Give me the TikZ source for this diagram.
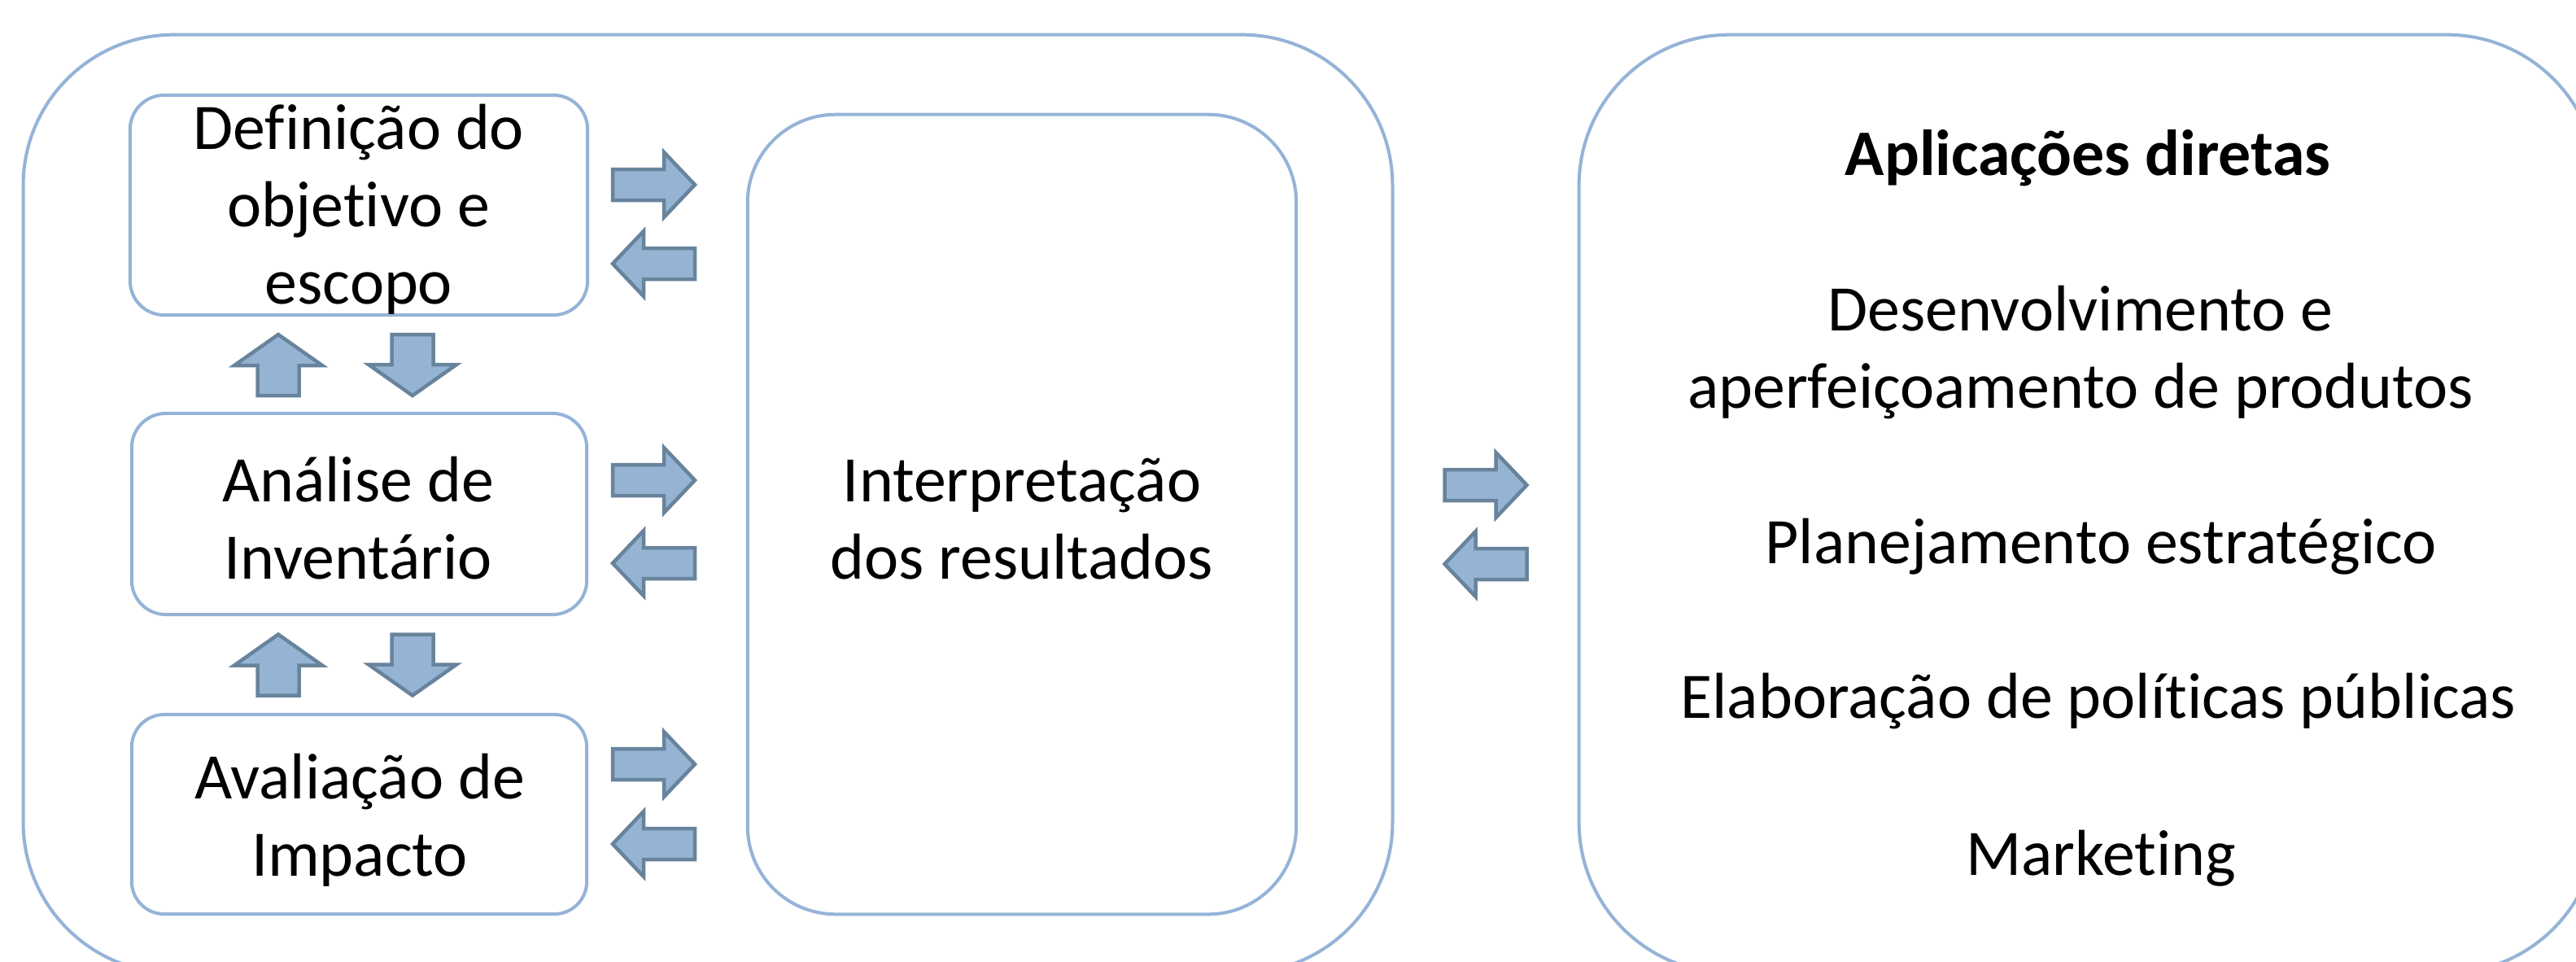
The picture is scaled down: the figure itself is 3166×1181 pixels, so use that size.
\documentclass[tikz,border=0pt]{standalone}
\usepackage{fontspec}
\setmainfont{Carlito}[RawFeature={-liga}]
\definecolor{boxc}{HTML}{95B3D7}
\definecolor{arrfill}{HTML}{95B3D3}
\definecolor{arrline}{HTML}{68839C}
\tikzset{
  box/.style={draw=boxc, line width=0.04cm, rectangle, inner sep=0pt, outer sep=0pt},
  lbl/.style={font=\fontsize{22.7}{26.9}\selectfont, align=center, anchor=base, inner sep=0pt},
  arr/.style={fill=arrfill, draw=arrline, line width=0.045cm, line join=miter},
  harr/.pic={\draw[arr] (-50.5,-19) -- (12.5,-19) -- (12.5,-40) -- (50.5,0) -- (12.5,40) -- (12.5,19) -- (-50.5,19) -- cycle;},
  varr/.pic={\draw[arr] (-25.5,37.5) -- (-25.5,0.5) -- (-54,0.5) -- (0,-37.5) -- (54,0.5) -- (25.5,0.5) -- (25.5,37.5) -- cycle;}
}
\begin{document}
\begin{tikzpicture}[x=0.01cm,y=-0.01cm]
\useasboundingbox (0,0) rectangle (3166,1181);
\fill[white] (0,0) rectangle (3166,1181);
\clip (0,0) rectangle (3166,1181);
% outer boxes
\node[box, rounded corners=1.85cm, minimum width=16.82cm, minimum height=11.52cm] (outerL) at (870,619) {};
\node[box, rounded corners=1.85cm, minimum width=12.51cm, minimum height=11.52cm] (outerR) at (2566.5,619) {};
% inner boxes
\node[box, rounded corners=0.42cm, minimum width=5.62cm, minimum height=2.70cm] (def) at (441,252) {};
\node[box, rounded corners=0.42cm, minimum width=5.59cm, minimum height=2.47cm] (ana) at (441.5,631.5) {};
\node[box, rounded corners=0.40cm, minimum width=5.59cm, minimum height=2.45cm] (ava) at (441.5,1000.5) {};
\node[box, rounded corners=1.08cm, minimum width=6.74cm, minimum height=9.82cm] (interp) at (1256,632) {};
% horizontal arrows
\pic at (803.5,227) {harr};
\pic[rotate=180] at (803.5,324) {harr};
\pic at (803.5,590) {harr};
\pic[rotate=180] at (803.5,692) {harr};
\pic at (803.5,939) {harr};
\pic[rotate=180] at (803.5,1037) {harr};
\pic at (1826,596) {harr};
\pic[rotate=180] at (1826,693) {harr};
% vertical arrows
\pic at (342,448.5) {varr};
\pic[rotate=180] at (507,448.5) {varr};
\pic at (342,817) {varr};
\pic[rotate=180] at (507,817) {varr};
% texts (base anchor = last line baseline)
\node[lbl] (tdef) at (441,373) {Definição do\\objetivo e\\escopo};
\node[lbl] (tana) at (440,711) {Análise de\\Inventário};
\node[lbl] (tava) at (442,1076) {Avaliação de\\Impacto};
\node[lbl] (tint) at (1256,711) {Interpretação\\dos resultados};
\node[lbl, font=\fontsize{22.7}{26.9}\selectfont\bfseries] (tapl) at (2566,215) {Aplicações diretas};
\node[lbl] (tdes) at (2557,501) {Desenvolvimento e\\aperfeiçoamento de produtos};
\node[lbl] (tpla) at (2582,692) {Planejamento estratégico};
\node[lbl] (tela) at (2579,882) {Elaboração de políticas públicas};
\node[lbl] (tmkt) at (2582,1075) {Marketing};
\end{tikzpicture}
\end{document}
